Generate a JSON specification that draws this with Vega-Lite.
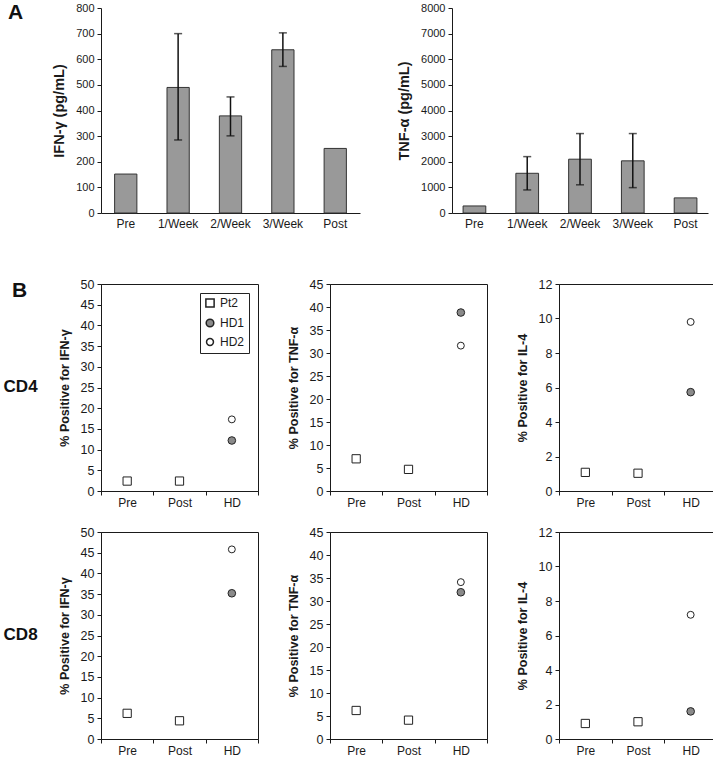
{
  "$schema": "https://vega.github.io/schema/vega-lite/v6.json",
  "padding": {"left": 3, "top": 2, "right": 0, "bottom": 0},
  "config": {
    "font": "Liberation Sans",
    "view": {"stroke": null},
    "axis": {"labelFont": "Liberation Sans", "titleFont": "Liberation Sans", "labelFontSize": 11, "titleFontSize": 12.5, "titleFontWeight": "bold", "labelColor": "#1a1a1a", "titleColor": "#1a1a1a", "domainColor": "#1a1a1a", "tickColor": "#1a1a1a", "tickSize": 4, "labelPadding": 3, "titlePadding": 9, "grid": false},
    "legend": {"labelFont": "Liberation Sans"},
    "title": {"font": "Liberation Sans", "fontWeight": "bold", "color": "#111111"}
  },
  "datasets": {
    "ifn": [
      {"t": "Pre", "v": 152},
      {"t": "1/Week", "v": 490, "lo": 285, "hi": 700},
      {"t": "2/Week", "v": 379, "lo": 301, "hi": 453},
      {"t": "3/Week", "v": 637, "lo": 572, "hi": 703},
      {"t": "Post", "v": 252}
    ],
    "tnf": [
      {"t": "Pre", "v": 275},
      {"t": "1/Week", "v": 1550, "lo": 900, "hi": 2200},
      {"t": "2/Week", "v": 2100, "lo": 1100, "hi": 3100},
      {"t": "3/Week", "v": 2035, "lo": 990, "hi": 3100},
      {"t": "Post", "v": 590}
    ],
    "b": [
      {"cell": "CD4", "cyt": "IFN", "t": "Pre", "g": "Pt2", "v": 2.4},
      {"cell": "CD4", "cyt": "IFN", "t": "Post", "g": "Pt2", "v": 2.4},
      {"cell": "CD4", "cyt": "IFN", "t": "HD", "g": "HD1", "v": 12.2},
      {"cell": "CD4", "cyt": "IFN", "t": "HD", "g": "HD2", "v": 17.3},
      {"cell": "CD4", "cyt": "TNF", "t": "Pre", "g": "Pt2", "v": 7.0},
      {"cell": "CD4", "cyt": "TNF", "t": "Post", "g": "Pt2", "v": 4.7},
      {"cell": "CD4", "cyt": "TNF", "t": "HD", "g": "HD1", "v": 38.8},
      {"cell": "CD4", "cyt": "TNF", "t": "HD", "g": "HD2", "v": 31.6},
      {"cell": "CD4", "cyt": "IL4", "t": "Pre", "g": "Pt2", "v": 1.08},
      {"cell": "CD4", "cyt": "IL4", "t": "Post", "g": "Pt2", "v": 1.03},
      {"cell": "CD4", "cyt": "IL4", "t": "HD", "g": "HD1", "v": 5.73},
      {"cell": "CD4", "cyt": "IL4", "t": "HD", "g": "HD2", "v": 9.8},
      {"cell": "CD8", "cyt": "IFN", "t": "Pre", "g": "Pt2", "v": 6.2},
      {"cell": "CD8", "cyt": "IFN", "t": "Post", "g": "Pt2", "v": 4.4},
      {"cell": "CD8", "cyt": "IFN", "t": "HD", "g": "HD1", "v": 35.2},
      {"cell": "CD8", "cyt": "IFN", "t": "HD", "g": "HD2", "v": 45.8},
      {"cell": "CD8", "cyt": "TNF", "t": "Pre", "g": "Pt2", "v": 6.2},
      {"cell": "CD8", "cyt": "TNF", "t": "Post", "g": "Pt2", "v": 4.1},
      {"cell": "CD8", "cyt": "TNF", "t": "HD", "g": "HD1", "v": 31.9},
      {"cell": "CD8", "cyt": "TNF", "t": "HD", "g": "HD2", "v": 34.1},
      {"cell": "CD8", "cyt": "IL4", "t": "Pre", "g": "Pt2", "v": 0.9},
      {"cell": "CD8", "cyt": "IL4", "t": "Post", "g": "Pt2", "v": 1.0},
      {"cell": "CD8", "cyt": "IL4", "t": "HD", "g": "HD1", "v": 1.6},
      {"cell": "CD8", "cyt": "IL4", "t": "HD", "g": "HD2", "v": 7.2}
    ]
  },
  "resolve": {"scale": {"shape": "independent", "fill": "independent", "size": "independent"}, "legend": {"shape": "independent", "fill": "independent", "size": "independent"}},
  "spacing": 48,
  "vconcat": [
    {
      "title": {"text": "A", "orient": "top", "anchor": "start", "frame": "group", "fontSize": 21, "offset": -21, "dx": -93},
      "spacing": 36,
      "hconcat": [
        {
          "width": 259, "height": 205,
          "data": {"name": "ifn"},
          "encoding": {"x": {"field": "t", "type": "nominal", "sort": ["Pre", "1/Week", "2/Week", "3/Week", "Post"], "scale": {"paddingInner": 0.575, "paddingOuter": 0.26}, "axis": {"title": null, "ticks": false, "labelAngle": 0, "labelFontSize": 12, "labelPadding": 5}}},
          "layer": [
            {"mark": {"type": "bar", "fill": "#999999", "stroke": "#333333", "strokeWidth": 1}, "encoding": {"y": {"field": "v", "type": "quantitative", "scale": {"domain": [0, 800], "nice": false}, "axis": {"title": "IFN-γ (pg/mL)", "titleFontSize": 14.5, "values": [0, 100, 200, 300, 400, 500, 600, 700, 800]}}}},
            {"transform": [{"filter": "isValid(datum.lo)"}], "mark": {"type": "rule", "color": "#111111", "strokeWidth": 1.5}, "encoding": {"y": {"field": "lo", "type": "quantitative", "axis": {"title": "IFN-γ (pg/mL)", "titleFontSize": 14.5, "values": [0, 100, 200, 300, 400, 500, 600, 700, 800]}}, "y2": {"field": "hi"}}},
            {"transform": [{"filter": "isValid(datum.lo)"}], "mark": {"type": "tick", "color": "#111111", "thickness": 1.5, "size": 8}, "encoding": {"y": {"field": "lo", "type": "quantitative", "axis": {"title": "IFN-γ (pg/mL)", "titleFontSize": 14.5, "values": [0, 100, 200, 300, 400, 500, 600, 700, 800]}}}},
            {"transform": [{"filter": "isValid(datum.hi)"}], "mark": {"type": "tick", "color": "#111111", "thickness": 1.5, "size": 8}, "encoding": {"y": {"field": "hi", "type": "quantitative", "axis": {"title": "IFN-γ (pg/mL)", "titleFontSize": 14.5, "values": [0, 100, 200, 300, 400, 500, 600, 700, 800]}}}}
          ]
        },
        {
          "width": 256, "height": 205,
          "data": {"name": "tnf"},
          "encoding": {"x": {"field": "t", "type": "nominal", "sort": ["Pre", "1/Week", "2/Week", "3/Week", "Post"], "scale": {"paddingInner": 0.57, "paddingOuter": 0.21}, "axis": {"title": null, "ticks": false, "labelAngle": 0, "labelFontSize": 12, "labelPadding": 5}}},
          "layer": [
            {"mark": {"type": "bar", "fill": "#999999", "stroke": "#333333", "strokeWidth": 1}, "encoding": {"y": {"field": "v", "type": "quantitative", "scale": {"domain": [0, 8000], "nice": false}, "axis": {"title": "TNF-α (pg/mL)", "titleFontSize": 14.5, "format": "d", "values": [0, 1000, 2000, 3000, 4000, 5000, 6000, 7000, 8000]}}}},
            {"transform": [{"filter": "isValid(datum.lo)"}], "mark": {"type": "rule", "color": "#111111", "strokeWidth": 1.5}, "encoding": {"y": {"field": "lo", "type": "quantitative", "axis": {"title": "TNF-α (pg/mL)", "titleFontSize": 14.5, "format": "d", "values": [0, 1000, 2000, 3000, 4000, 5000, 6000, 7000, 8000]}}, "y2": {"field": "hi"}}},
            {"transform": [{"filter": "isValid(datum.lo)"}], "mark": {"type": "tick", "color": "#111111", "thickness": 1.5, "size": 8}, "encoding": {"y": {"field": "lo", "type": "quantitative", "axis": {"title": "TNF-α (pg/mL)", "titleFontSize": 14.5, "format": "d", "values": [0, 1000, 2000, 3000, 4000, 5000, 6000, 7000, 8000]}}}},
            {"transform": [{"filter": "isValid(datum.hi)"}], "mark": {"type": "tick", "color": "#111111", "thickness": 1.5, "size": 8}, "encoding": {"y": {"field": "hi", "type": "quantitative", "axis": {"title": "TNF-α (pg/mL)", "titleFontSize": 14.5, "format": "d", "values": [0, 1000, 2000, 3000, 4000, 5000, 6000, 7000, 8000]}}}}
          ]
        }
      ]
    },
    {
      "title": {"text": "B", "orient": "top", "anchor": "start", "frame": "group", "fontSize": 21, "offset": -23, "dx": -89},
      "spacing": 16,
      "resolve": {"scale": {"shape": "independent", "fill": "independent", "size": "independent"}, "legend": {"shape": "independent", "fill": "independent", "size": "independent"}},
      "vconcat": [
        {
          "title": {"text": "CD4", "orient": "left", "angle": 0, "anchor": "middle", "align": "right", "baseline": "middle", "fontSize": 17, "offset": -14, "dy": -6},
          "spacing": 27,
          "resolve": {"scale": {"shape": "independent", "fill": "independent", "size": "independent"}, "legend": {"shape": "independent", "fill": "independent", "size": "independent"}},
          "hconcat": [
            {
              "width": 157, "height": 207,
              "view": {"stroke": "#1a1a1a", "strokeWidth": 1},
              "data": {"name": "b"},
              "transform": [{"filter": "datum.cell == 'CD4' && datum.cyt == 'IFN'"}],
              "mark": {"type": "point", "filled": true, "stroke": "#222222", "strokeWidth": 1, "opacity": 1},
              "encoding": {
                "x": {"field": "t", "type": "nominal", "sort": ["Pre", "Post", "HD"], "scale": {"type": "band", "domain": ["Pre", "Post", "HD"], "paddingInner": 0, "paddingOuter": 0}, "axis": {"title": null, "labelAngle": 0, "tickBand": "extent", "labelFontSize": 12, "labelPadding": 2}},
                "y": {"field": "v", "type": "quantitative", "scale": {"domain": [0, 50], "nice": false}, "axis": {"title": "% Positive for IFN-γ", "labelFontSize": 12.5, "values": [0, 5, 10, 15, 20, 25, 30, 35, 40, 45, 50]}},
                "shape": {"field": "g", "type": "nominal", "scale": {"domain": ["Pt2", "HD1", "HD2"], "range": ["square", "circle", "circle"]}, "legend": {"orient": "top-right", "offset": 9, "title": null, "strokeColor": "#222222", "fillColor": "white", "padding": 4, "labelFontSize": 12, "labelColor": "#1a1a1a", "rowPadding": 5, "labelOffset": 4, "encode": {"symbols": {"update": {"stroke": {"value": "#222222"}, "strokeWidth": {"value": 1}}}}}},
                "fill": {"field": "g", "type": "nominal", "scale": {"domain": ["Pt2", "HD1", "HD2"], "range": ["#ffffff", "#8a8a8a", "#ffffff"]}, "legend": {"orient": "top-right", "offset": 9, "title": null, "strokeColor": "#222222", "fillColor": "white", "padding": 4, "labelFontSize": 12, "labelColor": "#1a1a1a", "rowPadding": 5, "labelOffset": 4, "encode": {"symbols": {"update": {"stroke": {"value": "#222222"}, "strokeWidth": {"value": 1}}}}}},
                "size": {"field": "g", "type": "nominal", "scale": {"domain": ["Pt2", "HD1", "HD2"], "range": [68, 48, 48]}, "legend": {"orient": "top-right", "offset": 9, "title": null, "strokeColor": "#222222", "fillColor": "white", "padding": 4, "labelFontSize": 12, "labelColor": "#1a1a1a", "rowPadding": 5, "labelOffset": 4, "encode": {"symbols": {"update": {"stroke": {"value": "#222222"}, "strokeWidth": {"value": 1}}}}}}
              }
            },
            {
              "width": 157, "height": 207,
              "view": {"stroke": "#1a1a1a", "strokeWidth": 1},
              "data": {"name": "b"},
              "transform": [{"filter": "datum.cell == 'CD4' && datum.cyt == 'TNF'"}],
              "mark": {"type": "point", "filled": true, "stroke": "#222222", "strokeWidth": 1, "opacity": 1},
              "encoding": {
                "x": {"field": "t", "type": "nominal", "sort": ["Pre", "Post", "HD"], "scale": {"type": "band", "domain": ["Pre", "Post", "HD"], "paddingInner": 0, "paddingOuter": 0}, "axis": {"title": null, "labelAngle": 0, "tickBand": "extent", "labelFontSize": 12, "labelPadding": 2}},
                "y": {"field": "v", "type": "quantitative", "scale": {"domain": [0, 45], "nice": false}, "axis": {"title": "% Positive for TNF-α", "labelFontSize": 12.5, "values": [0, 5, 10, 15, 20, 25, 30, 35, 40, 45]}},
                "shape": {"field": "g", "type": "nominal", "scale": {"domain": ["Pt2", "HD1", "HD2"], "range": ["square", "circle", "circle"]}, "legend": null},
                "fill": {"field": "g", "type": "nominal", "scale": {"domain": ["Pt2", "HD1", "HD2"], "range": ["#ffffff", "#8a8a8a", "#ffffff"]}, "legend": null},
                "size": {"field": "g", "type": "nominal", "scale": {"domain": ["Pt2", "HD1", "HD2"], "range": [68, 48, 48]}, "legend": null}
              }
            },
            {
              "width": 158, "height": 207,
              "view": {"stroke": "#1a1a1a", "strokeWidth": 1},
              "data": {"name": "b"},
              "transform": [{"filter": "datum.cell == 'CD4' && datum.cyt == 'IL4'"}],
              "mark": {"type": "point", "filled": true, "stroke": "#222222", "strokeWidth": 1, "opacity": 1},
              "encoding": {
                "x": {"field": "t", "type": "nominal", "sort": ["Pre", "Post", "HD"], "scale": {"type": "band", "domain": ["Pre", "Post", "HD"], "paddingInner": 0, "paddingOuter": 0}, "axis": {"title": null, "labelAngle": 0, "tickBand": "extent", "labelFontSize": 12, "labelPadding": 2}},
                "y": {"field": "v", "type": "quantitative", "scale": {"domain": [0, 12], "nice": false}, "axis": {"title": "% Positive for IL-4", "labelFontSize": 12.5, "values": [0, 2, 4, 6, 8, 10, 12]}},
                "shape": {"field": "g", "type": "nominal", "scale": {"domain": ["Pt2", "HD1", "HD2"], "range": ["square", "circle", "circle"]}, "legend": null},
                "fill": {"field": "g", "type": "nominal", "scale": {"domain": ["Pt2", "HD1", "HD2"], "range": ["#ffffff", "#8a8a8a", "#ffffff"]}, "legend": null},
                "size": {"field": "g", "type": "nominal", "scale": {"domain": ["Pt2", "HD1", "HD2"], "range": [68, 48, 48]}, "legend": null}
              }
            }
          ]
        },
        {
          "title": {"text": "CD8", "orient": "left", "angle": 0, "anchor": "middle", "align": "right", "baseline": "middle", "fontSize": 17, "offset": -14, "dy": -6},
          "spacing": 27,
          "resolve": {"scale": {"shape": "independent", "fill": "independent", "size": "independent"}, "legend": {"shape": "independent", "fill": "independent", "size": "independent"}},
          "hconcat": [
            {
              "width": 157, "height": 207,
              "view": {"stroke": "#1a1a1a", "strokeWidth": 1},
              "data": {"name": "b"},
              "transform": [{"filter": "datum.cell == 'CD8' && datum.cyt == 'IFN'"}],
              "mark": {"type": "point", "filled": true, "stroke": "#222222", "strokeWidth": 1, "opacity": 1},
              "encoding": {
                "x": {"field": "t", "type": "nominal", "sort": ["Pre", "Post", "HD"], "scale": {"type": "band", "domain": ["Pre", "Post", "HD"], "paddingInner": 0, "paddingOuter": 0}, "axis": {"title": null, "labelAngle": 0, "tickBand": "extent", "labelFontSize": 12, "labelPadding": 2}},
                "y": {"field": "v", "type": "quantitative", "scale": {"domain": [0, 50], "nice": false}, "axis": {"title": "% Positive for IFN-γ", "labelFontSize": 12.5, "values": [0, 5, 10, 15, 20, 25, 30, 35, 40, 45, 50]}},
                "shape": {"field": "g", "type": "nominal", "scale": {"domain": ["Pt2", "HD1", "HD2"], "range": ["square", "circle", "circle"]}, "legend": null},
                "fill": {"field": "g", "type": "nominal", "scale": {"domain": ["Pt2", "HD1", "HD2"], "range": ["#ffffff", "#8a8a8a", "#ffffff"]}, "legend": null},
                "size": {"field": "g", "type": "nominal", "scale": {"domain": ["Pt2", "HD1", "HD2"], "range": [68, 48, 48]}, "legend": null}
              }
            },
            {
              "width": 157, "height": 207,
              "view": {"stroke": "#1a1a1a", "strokeWidth": 1},
              "data": {"name": "b"},
              "transform": [{"filter": "datum.cell == 'CD8' && datum.cyt == 'TNF'"}],
              "mark": {"type": "point", "filled": true, "stroke": "#222222", "strokeWidth": 1, "opacity": 1},
              "encoding": {
                "x": {"field": "t", "type": "nominal", "sort": ["Pre", "Post", "HD"], "scale": {"type": "band", "domain": ["Pre", "Post", "HD"], "paddingInner": 0, "paddingOuter": 0}, "axis": {"title": null, "labelAngle": 0, "tickBand": "extent", "labelFontSize": 12, "labelPadding": 2}},
                "y": {"field": "v", "type": "quantitative", "scale": {"domain": [0, 45], "nice": false}, "axis": {"title": "% Positive for TNF-α", "labelFontSize": 12.5, "values": [0, 5, 10, 15, 20, 25, 30, 35, 40, 45]}},
                "shape": {"field": "g", "type": "nominal", "scale": {"domain": ["Pt2", "HD1", "HD2"], "range": ["square", "circle", "circle"]}, "legend": null},
                "fill": {"field": "g", "type": "nominal", "scale": {"domain": ["Pt2", "HD1", "HD2"], "range": ["#ffffff", "#8a8a8a", "#ffffff"]}, "legend": null},
                "size": {"field": "g", "type": "nominal", "scale": {"domain": ["Pt2", "HD1", "HD2"], "range": [68, 48, 48]}, "legend": null}
              }
            },
            {
              "width": 158, "height": 207,
              "view": {"stroke": "#1a1a1a", "strokeWidth": 1},
              "data": {"name": "b"},
              "transform": [{"filter": "datum.cell == 'CD8' && datum.cyt == 'IL4'"}],
              "mark": {"type": "point", "filled": true, "stroke": "#222222", "strokeWidth": 1, "opacity": 1},
              "encoding": {
                "x": {"field": "t", "type": "nominal", "sort": ["Pre", "Post", "HD"], "scale": {"type": "band", "domain": ["Pre", "Post", "HD"], "paddingInner": 0, "paddingOuter": 0}, "axis": {"title": null, "labelAngle": 0, "tickBand": "extent", "labelFontSize": 12, "labelPadding": 2}},
                "y": {"field": "v", "type": "quantitative", "scale": {"domain": [0, 12], "nice": false}, "axis": {"title": "% Positive for IL-4", "labelFontSize": 12.5, "values": [0, 2, 4, 6, 8, 10, 12]}},
                "shape": {"field": "g", "type": "nominal", "scale": {"domain": ["Pt2", "HD1", "HD2"], "range": ["square", "circle", "circle"]}, "legend": null},
                "fill": {"field": "g", "type": "nominal", "scale": {"domain": ["Pt2", "HD1", "HD2"], "range": ["#ffffff", "#8a8a8a", "#ffffff"]}, "legend": null},
                "size": {"field": "g", "type": "nominal", "scale": {"domain": ["Pt2", "HD1", "HD2"], "range": [68, 48, 48]}, "legend": null}
              }
            }
          ]
        }
      ]
    }
  ]
}
